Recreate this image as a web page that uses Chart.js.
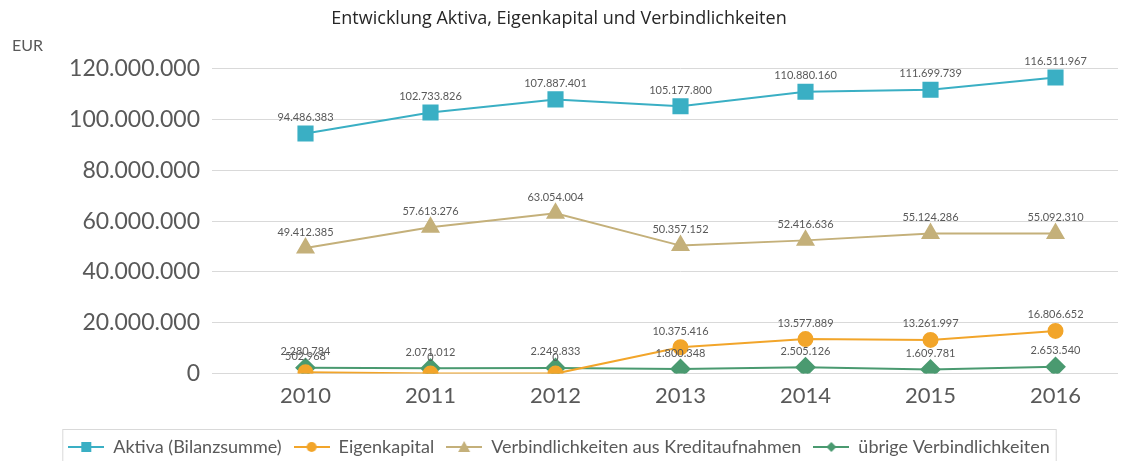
<!DOCTYPE html>
<html>
<head>
<meta charset="utf-8">
<script src="https://cdn.jsdelivr.net/npm/chart.js@4"></script>
<style>
  html, body { margin: 0; padding: 0; background: #fff; }
  #wrap { width: 1134px; height: 461px; }
</style>
</head>
<body>
<div id="wrap"><canvas id="chart"></canvas></div>
<script>
const jahre = ['2010', '2011', '2012', '2013', '2014', '2015', '2016'];
const aktiva = [94486383, 102733826, 107887401, 105177800, 110880160, 111699739, 116511967];
const eigenkapital = [502968, 0, 0, 10375416, 13577889, 13261997, 16806652];
const kredite = [49412385, 57613276, 63054004, 50357152, 52416636, 55124286, 55092310];
const uebrige = [2280784, 2071012, 2249833, 1800348, 2505126, 1609781, 2653540];
const yTicks = [0, 20000000, 40000000, 60000000, 80000000, 100000000, 120000000];

const schrift = 'Lato, "Open Sans", sans-serif';
const grau = '#595959';

function fmt(v) {
  return String(Math.round(v)).replace(/\B(?=(\d{3})+(?!\d))/g, '.');
}

// kleines Bild fuer die Legende: Linie mit Marker
function legendIcon(color, style) {
  const c = document.createElement('canvas');
  c.width = 36; c.height = 14;
  const g = c.getContext('2d');
  g.strokeStyle = color; g.fillStyle = color; g.lineWidth = 2;
  g.beginPath(); g.moveTo(0, 7); g.lineTo(36, 7); g.stroke();
  g.beginPath();
  if (style === 'rect') g.rect(13, 2, 10, 10);
  else if (style === 'circle') g.arc(18, 7, 5, 0, Math.PI * 2);
  else if (style === 'triangle') { g.moveTo(18, 1); g.lineTo(24, 12); g.lineTo(12, 12); g.closePath(); }
  else { g.moveTo(18, 2); g.lineTo(23, 7); g.lineTo(18, 12); g.lineTo(13, 7); g.closePath(); }
  g.fill();
  return c;
}

const werteLabels = {
  id: 'werteLabels',
  afterDatasetsDraw(chart) {
    const ctx = chart.ctx;
    ctx.save();
    ctx.font = '11px ' + schrift;
    ctx.fillStyle = grau;
    ctx.textAlign = 'center';
    ctx.textBaseline = 'middle';
    chart.data.datasets.forEach((ds, i) => {
      chart.getDatasetMeta(i).data.forEach((pt, j) => {
        ctx.fillText(fmt(ds.data[j]), pt.x, pt.y - 16);
      });
    });
    ctx.restore();
  }
};

const extras = {
  id: 'extras',
  afterDraw(chart) {
    const ctx = chart.ctx;
    ctx.save();
    ctx.font = '16px ' + schrift;
    ctx.fillStyle = grau;
    ctx.textBaseline = 'middle';
    ctx.fillText('EUR', 12, 46);
    const lg = chart.legend;
    if (lg && lg.legendHitBoxes.length) {
      const hb = lg.legendHitBoxes;
      const x0 = hb[0].left - 6;
      const x1 = hb[hb.length - 1].left + hb[hb.length - 1].width + 6;
      ctx.strokeStyle = '#d9d9d9';
      ctx.lineWidth = 1;
      ctx.strokeRect(x0 + 0.5, hb[0].top - 8.5, x1 - x0, 45);
    }
    ctx.restore();
  }
};

new Chart(document.getElementById('chart'), {
  type: 'line',
  data: {
    labels: jahre,
    datasets: [
      {
        label: 'Aktiva (Bilanzsumme)',
        data: aktiva,
        borderColor: '#3aafc4',
        backgroundColor: '#3aafc4',
        pointStyle: 'rect',
        pointRadius: 10,
        borderWidth: 2
      },
      {
        label: 'Eigenkapital',
        data: eigenkapital,
        borderColor: '#f2a52a',
        backgroundColor: '#f2a52a',
        pointStyle: 'circle',
        pointRadius: 7,
        borderWidth: 2
      },
      {
        label: 'Verbindlichkeiten aus Kreditaufnahmen',
        data: kredite,
        borderColor: '#c4b07a',
        backgroundColor: '#c4b07a',
        pointStyle: 'triangle',
        pointRadius: 9,
        borderWidth: 2
      },
      {
        label: 'übrige Verbindlichkeiten',
        data: uebrige,
        borderColor: '#4a9a70',
        backgroundColor: '#4a9a70',
        pointStyle: 'rectRot',
        pointRadius: 9,
        borderWidth: 2
      }
    ]
  },
  options: {
    responsive: true,
    maintainAspectRatio: false,
    animation: false,
    layout: { padding: { left: 0, right: 16, top: 0, bottom: -5 } },
    plugins: {
      title: {
        display: true,
        text: 'Entwicklung Aktiva, Eigenkapital und Verbindlichkeiten',
        color: '#262626',
        font: { family: '"Open Sans", sans-serif', size: 18, weight: 'normal' },
        padding: { top: 8, bottom: 39 }
      },
      legend: {
        position: 'bottom',
        labels: {
          color: grau,
          font: { family: schrift, size: 18 },
          usePointStyle: true,
          pointStyleWidth: 36,
          boxHeight: 14,
          padding: 12,
          generateLabels(chart) {
            return chart.data.datasets.map((ds, i) => ({
              text: ds.label,
              fontColor: grau,
              pointStyle: legendIcon(ds.borderColor, ds.pointStyle),
              datasetIndex: i,
              lineWidth: 0,
              strokeStyle: 'transparent',
              fillStyle: ds.borderColor
            }));
          }
        }
      },
      tooltip: { enabled: false }
    },
    scales: {
      x: {
        offset: true,
        grid: { display: false, drawTicks: false },
        border: { display: false },
        afterFit(scale) { scale.height += 8; },
        ticks: { color: grau, font: { family: schrift, size: 22 }, padding: 9 }
      },
      y: {
        min: 0,
        max: 120000000,
        afterBuildTicks(scale) {
          scale.ticks = yTicks.map(v => ({ value: v }));
        },
        afterFit(scale) { scale.width = 243; },
        grid: { color: '#d9d9d9', tickLength: 31, drawTicks: true },
        border: { display: false },
        ticks: {
          color: grau,
          font: { family: schrift, size: 23 },
          padding: 12,
          callback: v => fmt(v)
        }
      }
    }
  },
  plugins: [werteLabels, extras]
});
</script>
</body>
</html>
